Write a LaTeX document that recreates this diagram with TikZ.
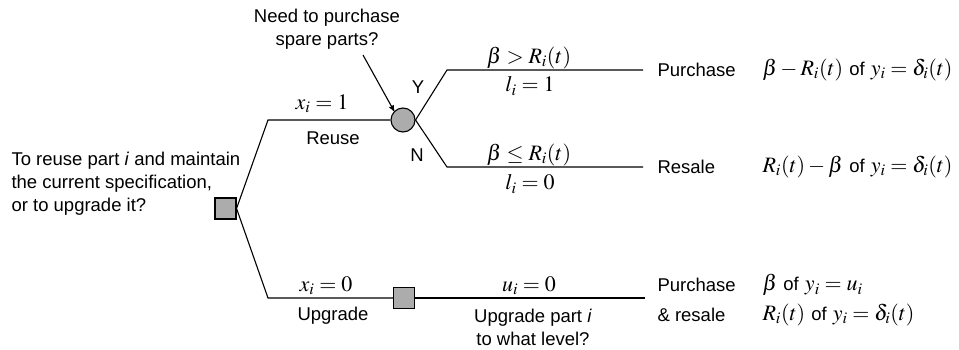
\documentclass[tikz,border=0pt]{standalone}
\usepackage{mathptmx}
\usepackage[no-math]{fontspec}
\setmainfont{Liberation Sans}
\usetikzlibrary{arrows, positioning}
\newcommand{\ofw}{\ {\fontsize{18.5}{20}\selectfont of}\ }

\begin{document}
\begin{tikzpicture}[x=1pt, y=-1pt, >=stealth', line width=1.1pt,
    decision/.style={draw, fill=gray!65, minimum size=21pt, inner sep=0pt},
    chance/.style={draw, circle, fill=gray!65, minimum size=24pt, inner sep=0pt},
    lbl/.style={font=\fontsize{18.5}{23}\selectfont, inner sep=0pt},
    mth/.style={font=\fontsize{22}{24}\selectfont, inner sep=0pt}]
    \useasboundingbox (0,0) rectangle (959,350);

    % decision and chance nodes
    \node [decision] (root) at (225.5,208.5) {};
    \node [chance] (buy) at (403,120) {};
    \node [decision] (upg) at (404,298) {};

    % bends and ends of branches
    \coordinate (a1) at (268,120);
    \coordinate (a2) at (268,298);
    \coordinate (b1) at (447,70);
    \coordinate (b2) at (447,167);
    \coordinate (e1) at (643,70);
    \coordinate (e2) at (643,167);
    \coordinate (e3) at (645,298);

    \draw (root.east) -- (a1) -- (buy.west);
    \draw (root.east) -- (a2) -- (upg.west);
    \draw (upg.east) -- (e3);
    \draw (buy.east) -- (b1) -- (e1);
    \draw (buy.east) -- (b2) -- (e2);

    % question texts
    \node [lbl, align=left, anchor=west] (q1) at (11,184) {To reuse part \textit{i} and maintain\\the current specification,\\or to upgrade it?};
    \node [lbl, align=center] (q2) at (327,29) {Need to purchase\\spare parts?};
    \node [lbl, align=center] (q3) at (533,327) {Upgrade part \textit{i}\\to what level?};
    \draw [->] (363,55) -- (buy.north west);

    % branch labels
    \node [mth] (x1) at (322,104) {$x_i = 1$};
    \node [lbl] (reuse) at (333,138) {Reuse};
    \node [mth] (x0) at (326,286) {$x_i = 0$};
    \node [lbl] (upgrade) at (333,316) {Upgrade};
    \node [mth] (u0) at (529,286) {$u_i = 0$};
    \node [lbl] (yes) at (418,87) {Y};
    \node [lbl] (no) at (417,155) {N};
    \node [mth] (c1) at (529,58) {$\beta > R_i(t)$};
    \node [mth] (l1) at (530,86) {$l_i = 1$};
    \node [mth] (c2) at (529,155) {$\beta \le R_i(t)$};
    \node [mth] (l0) at (530,184) {$l_i = 0$};

    % outcomes
    \node [lbl, anchor=west] (o1) at (657,70) {Purchase};
    \node [mth, anchor=west] (f1) at (762,70) {$\beta - R_i(t)$\ofw$y_i = \delta_i(t)$};
    \node [lbl, anchor=west] (o2) at (657,167) {Resale};
    \node [mth, anchor=west] (f2) at (762,167) {$R_i(t) - \beta$\ofw$y_i = \delta_i(t)$};
    \node [lbl, anchor=west] (o3) at (657,285) {Purchase};
    \node [lbl, anchor=west] (o4) at (657,315) {\& resale};
    \node [mth, anchor=west] (f3) at (762,285) {$\beta$\ofw$y_i = u_i$};
    \node [mth, anchor=west] (f4) at (762,315) {$R_i(t)$\ofw$y_i = \delta_i(t)$};
\end{tikzpicture}
\end{document}
